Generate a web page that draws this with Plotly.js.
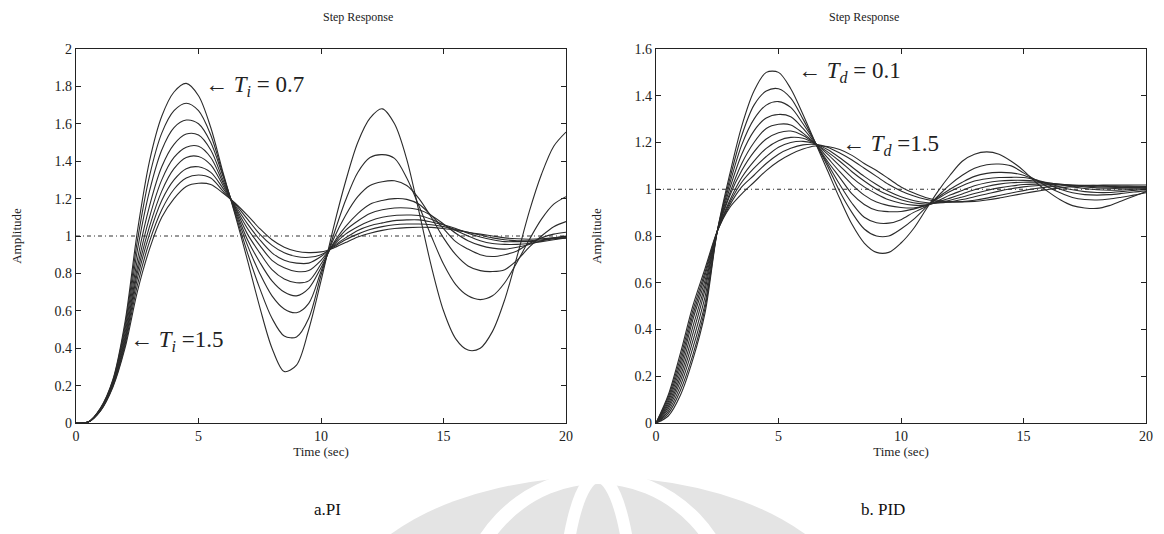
<!DOCTYPE html>
<html>
<head>
<meta charset="utf-8">
<script src="https://cdn.plot.ly/plotly-3.0.1.min.js"></script>
<style>
  html, body { margin: 0; padding: 0; background: #ffffff; }
  #chart { width: 1164px; height: 534px; }
</style>
</head>
<body>
<div id="chart"></div>
<script>
// ---- time base (seconds) ----
const timeSec = [0,0.5,1,1.5,2,2.5,3,3.5,4,4.5,5,5.5,6,6.5,7,7.5,8,8.5,9,9.5,10,10.5,11,11.5,12,12.5,13,13.5,14,14.5,15,15.5,16,16.5,17,17.5,18,18.5,19,19.5,20];

// ---- (a) PI controller, Ti = 0.7 : 0.1 : 1.5 ----
const tiValues = [0.7,0.8,0.9,1.0,1.1,1.2,1.3,1.4,1.5];
const piTi07 = [0,0.005,0.08,0.23,0.54,1.02,1.40,1.64,1.77,1.816,1.75,1.58,1.34,1.11,0.87,0.62,0.40,0.275,0.31,0.50,0.76,1.04,1.29,1.50,1.63,1.68,1.60,1.41,1.13,0.84,0.60,0.45,0.39,0.40,0.49,0.66,0.89,1.13,1.33,1.48,1.556];
const piTi08 = [0,0.005,0.078,0.225,0.52,0.97,1.32,1.55,1.67,1.71,1.67,1.54,1.33,1.12,0.91,0.72,0.56,0.465,0.46,0.56,0.79,1.00,1.19,1.34,1.42,1.435,1.415,1.31,1.16,1.00,0.85,0.74,0.68,0.66,0.68,0.75,0.86,0.98,1.09,1.17,1.21];
const piTi09 = [0,0.005,0.076,0.22,0.50,0.92,1.24,1.46,1.58,1.62,1.60,1.50,1.32,1.13,0.95,0.80,0.68,0.61,0.59,0.64,0.81,0.98,1.11,1.21,1.27,1.29,1.295,1.27,1.20,1.10,0.99,0.90,0.84,0.815,0.81,0.82,0.87,0.94,1.00,1.05,1.077];
const piTi10 = [0,0.005,0.074,0.215,0.48,0.87,1.16,1.37,1.49,1.545,1.54,1.46,1.30,1.14,0.98,0.86,0.76,0.70,0.68,0.72,0.83,0.96,1.05,1.12,1.17,1.19,1.20,1.196,1.17,1.11,1.04,0.97,0.93,0.90,0.89,0.90,0.92,0.96,0.99,1.01,1.02];
const piTi11 = [0,0.005,0.072,0.21,0.46,0.83,1.10,1.30,1.42,1.475,1.48,1.42,1.285,1.15,1.01,0.91,0.82,0.77,0.75,0.76,0.85,0.955,1.03,1.08,1.12,1.14,1.15,1.15,1.14,1.11,1.065,1.015,0.975,0.95,0.935,0.93,0.94,0.955,0.975,0.99,1.00];
const piTi12 = [0,0.005,0.07,0.205,0.445,0.80,1.05,1.24,1.36,1.42,1.425,1.38,1.27,1.155,1.04,0.95,0.87,0.83,0.81,0.815,0.87,0.95,1.01,1.05,1.08,1.10,1.11,1.112,1.11,1.09,1.06,1.03,1.00,0.975,0.96,0.955,0.955,0.96,0.97,0.98,0.99];
const piTi13 = [0,0.005,0.068,0.20,0.43,0.77,1.01,1.19,1.30,1.36,1.37,1.34,1.255,1.163,1.065,0.98,0.91,0.87,0.855,0.855,0.89,0.945,0.99,1.03,1.055,1.07,1.082,1.086,1.086,1.075,1.06,1.04,1.015,0.995,0.98,0.97,0.97,0.97,0.975,0.985,0.99];
const piTi14 = [0,0.005,0.066,0.195,0.415,0.735,0.97,1.14,1.25,1.31,1.326,1.31,1.24,1.17,1.09,1.01,0.95,0.91,0.89,0.886,0.90,0.94,0.98,1.01,1.035,1.05,1.06,1.064,1.064,1.06,1.05,1.035,1.02,1.005,0.99,0.98,0.975,0.975,0.98,0.985,0.99];
const piTi15 = [0,0.005,0.065,0.19,0.40,0.70,0.93,1.10,1.20,1.265,1.282,1.275,1.23,1.175,1.11,1.04,0.98,0.94,0.918,0.911,0.915,0.935,0.965,0.995,1.015,1.03,1.04,1.045,1.047,1.046,1.04,1.03,1.02,1.01,1.00,0.99,0.985,0.983,0.985,0.99,0.995];
const piSeries = [piTi07,piTi08,piTi09,piTi10,piTi11,piTi12,piTi13,piTi14,piTi15];

// ---- (b) PID controller, Td from 0.1 (top peak) to 1.5 ----
const tdLabels = ['Td = 0.1','Td #2','Td #3','Td #4','Td #5','Td #6','Td #7','Td #8','Td #9','Td = 1.5'];
const pidTd01 = [0,0.03,0.12,0.27,0.47,0.82,1.06,1.27,1.42,1.50,1.50,1.43,1.32,1.20,1.08,0.96,0.85,0.77,0.73,0.73,0.77,0.83,0.91,0.99,1.06,1.12,1.15,1.16,1.15,1.12,1.08,1.03,0.99,0.955,0.93,0.92,0.918,0.93,0.95,0.97,0.99];
const pidTd02 = [0,0.04,0.14,0.29,0.49,0.82,1.04,1.23,1.36,1.42,1.43,1.39,1.30,1.20,1.10,0.99,0.90,0.83,0.80,0.80,0.83,0.87,0.92,0.97,1.02,1.06,1.09,1.105,1.108,1.10,1.07,1.04,1.01,0.985,0.965,0.956,0.954,0.958,0.966,0.975,0.985];
const pidTd03 = [0,0.05,0.16,0.32,0.51,0.82,1.02,1.19,1.30,1.36,1.375,1.35,1.28,1.20,1.11,1.02,0.94,0.88,0.857,0.855,0.87,0.90,0.925,0.965,1.00,1.03,1.055,1.068,1.072,1.07,1.06,1.04,1.02,1.00,0.985,0.977,0.975,0.977,0.982,0.988,0.993];
const pidTd04 = [0,0.06,0.18,0.35,0.54,0.82,1.00,1.15,1.25,1.305,1.32,1.31,1.26,1.195,1.12,1.05,0.98,0.935,0.91,0.904,0.905,0.915,0.93,0.96,0.99,1.015,1.035,1.045,1.05,1.051,1.05,1.04,1.025,1.01,0.998,0.99,0.986,0.986,0.99,0.995,1.00];
const pidTd05 = [0,0.07,0.20,0.38,0.57,0.82,0.98,1.11,1.20,1.26,1.278,1.275,1.24,1.195,1.135,1.075,1.02,0.975,0.945,0.93,0.922,0.92,0.93,0.95,0.975,0.995,1.015,1.028,1.035,1.038,1.038,1.035,1.028,1.02,1.01,1.003,0.998,0.996,0.997,1.00,1.003];
const pidTd06 = [0,0.08,0.22,0.41,0.59,0.82,0.97,1.08,1.16,1.215,1.242,1.249,1.23,1.195,1.15,1.10,1.05,1.01,0.98,0.955,0.94,0.932,0.932,0.945,0.962,0.98,0.998,1.012,1.022,1.028,1.03,1.03,1.027,1.022,1.016,1.01,1.006,1.004,1.004,1.005,1.007];
const pidTd07 = [0,0.09,0.24,0.44,0.61,0.82,0.95,1.05,1.12,1.175,1.208,1.222,1.218,1.195,1.16,1.12,1.075,1.035,1.00,0.975,0.955,0.942,0.937,0.942,0.953,0.967,0.982,0.995,1.006,1.014,1.02,1.022,1.022,1.02,1.017,1.014,1.011,1.009,1.008,1.008,1.009];
const pidTd08 = [0,0.10,0.26,0.46,0.63,0.82,0.94,1.03,1.09,1.14,1.18,1.20,1.205,1.195,1.17,1.135,1.095,1.055,1.02,0.99,0.968,0.952,0.943,0.941,0.946,0.956,0.968,0.98,0.992,1.002,1.01,1.015,1.018,1.019,1.018,1.016,1.014,1.012,1.011,1.01,1.01];
const pidTd09 = [0,0.11,0.28,0.48,0.645,0.82,0.93,1.01,1.06,1.11,1.15,1.175,1.19,1.192,1.18,1.155,1.125,1.09,1.055,1.02,0.993,0.972,0.957,0.948,0.945,0.947,0.953,0.962,0.973,0.984,0.994,1.003,1.01,1.014,1.016,1.017,1.016,1.015,1.014,1.013,1.012];
const pidTd15 = [0,0.12,0.30,0.50,0.66,0.82,0.92,0.98,1.03,1.08,1.12,1.15,1.172,1.185,1.183,1.17,1.145,1.11,1.08,1.045,1.01,0.985,0.965,0.953,0.947,0.946,0.948,0.954,0.962,0.972,0.982,0.991,0.999,1.006,1.011,1.015,1.017,1.018,1.018,1.018,1.018];
const pidSeries = [pidTd01,pidTd02,pidTd03,pidTd04,pidTd05,pidTd06,pidTd07,pidTd08,pidTd09,pidTd15];

// ---- axes / ticks ----
const steadyState = 1;
const xTicks = [0,5,10,15,20];
const yTicksPI = [0,0.2,0.4,0.6,0.8,1,1.2,1.4,1.6,1.8,2];
const yTickTextPI = ['0','0.2','0.4','0.6','0.8','1','1.2','1.4','1.6','1.8','2'];
const yTicksPID = [0,0.2,0.4,0.6,0.8,1,1.2,1.4,1.6];
const yTickTextPID = ['0','0.2','0.4','0.6','0.8','1','1.2','1.4','1.6'];

const SERIF = "'Liberation Serif', 'DejaVu Serif', serif";
const INK = '#222222';
const CURVE = '#2b2b2b';

const traces = [];
function addSteady(xa, ya) {
  traces.push({
    x: [timeSec[0], timeSec[timeSec.length-1]], y: [steadyState, steadyState],
    xaxis: xa, yaxis: ya, mode: 'lines', hoverinfo: 'skip', showlegend: false,
    line: {color: '#333333', width: 1, dash: '4px,3px,1px,3px'}
  });
}
addSteady('x', 'y');
addSteady('x2', 'y2');
piSeries.forEach((s, i) => traces.push({
  x: timeSec, y: s, xaxis: 'x', yaxis: 'y', mode: 'lines', name: 'Ti = ' + tiValues[i],
  showlegend: false, line: {color: CURVE, width: 1.1, shape: 'spline', smoothing: 0.9}
}));
pidSeries.forEach((s, i) => traces.push({
  x: timeSec, y: s, xaxis: 'x2', yaxis: 'y2', mode: 'lines', name: tdLabels[i],
  showlegend: false, line: {color: CURVE, width: 1.1, shape: 'spline', smoothing: 0.9}
}));

function xAxis(domain, anchor) {
  return {
    domain: domain, anchor: anchor, range: [0, 20], tickvals: xTicks,
    ticks: 'inside', ticklen: 5, tickwidth: 1, tickcolor: INK,
    showline: true, linecolor: INK, linewidth: 1.3, mirror: 'ticks',
    showgrid: false, zeroline: false, automargin: false,
    tickfont: {family: SERIF, size: 14, color: INK},
    title: {text: 'Time (sec)', font: {family: SERIF, size: 13, color: INK}, standoff: 2}
  };
}
function yAxis(domain, anchor, range, vals, text) {
  return {
    domain: domain, anchor: anchor, range: range, tickvals: vals, ticktext: text,
    ticks: 'inside', ticklen: 5, tickwidth: 1, tickcolor: INK,
    showline: true, linecolor: INK, linewidth: 1.3, mirror: 'ticks',
    showgrid: false, zeroline: false, automargin: false,
    tickfont: {family: SERIF, size: 14, color: INK},
    title: {text: 'Amplitude', font: {family: SERIF, size: 13, color: INK}, standoff: 30}
  };
}

const W = 1164, H = 534;
const px = v => v / W, py = v => (H - v) / H;
const yDom = [py(423), py(49)];

const layout = {
  width: W, height: H, margin: {l: 0, r: 0, t: 0, b: 0},
  paper_bgcolor: '#ffffff', plot_bgcolor: 'rgba(0,0,0,0)',
  showlegend: false,
  xaxis: xAxis([px(76), px(566)], 'y'),
  yaxis: yAxis(yDom, 'x', [0, 2], yTicksPI, yTickTextPI),
  xaxis2: xAxis([px(656), px(1146)], 'y2'),
  yaxis2: yAxis(yDom, 'x2', [0, 1.6], yTicksPID, yTickTextPID),
  shapes: [
    {type: 'circle', xref: 'paper', yref: 'paper', layer: 'below',
     x0: px(338), x1: px(858), y0: py(765), y1: py(477), fillcolor: '#e4e4e4', line: {width: 0}},
    {type: 'circle', xref: 'paper', yref: 'paper', layer: 'below',
     x0: px(461), x1: px(735), y0: py(765), y1: py(477), fillcolor: 'rgba(0,0,0,0)', line: {color: '#ffffff', width: 14}},
    {type: 'circle', xref: 'paper', yref: 'paper', layer: 'below',
     x0: px(563), x1: px(633), y0: py(765), y1: py(477), fillcolor: 'rgba(0,0,0,0)', line: {color: '#ffffff', width: 12}}
  ],
  annotations: [
    {text: 'Step Response', xref: 'paper', yref: 'paper', x: px(321), y: py(17), yanchor: 'middle', showarrow: false,
     font: {family: SERIF, size: 12, color: INK}},
    {text: 'Step Response', xref: 'paper', yref: 'paper', x: px(901), y: py(17), yanchor: 'middle', showarrow: false,
     font: {family: SERIF, size: 12, color: INK}},
    {text: '← <i>T<sub>i</sub></i> = 0.7', xref: 'x', yref: 'y', x: 5.19, y: 1.80, xanchor: 'left', yanchor: 'middle',
     showarrow: false, font: {family: SERIF, size: 23, color: INK}},
    {text: '← <i>T<sub>i</sub></i> =1.5', xref: 'x', yref: 'y', x: 2.14, y: 0.44, xanchor: 'left', yanchor: 'middle',
     showarrow: false, font: {family: SERIF, size: 23, color: INK}},
    {text: '← <i>T<sub>d</sub></i> = 0.1', xref: 'x2', yref: 'y2', x: 5.72, y: 1.50, xanchor: 'left', yanchor: 'middle',
     showarrow: false, font: {family: SERIF, size: 23, color: INK}},
    {text: '← <i>T<sub>d</sub></i> =1.5', xref: 'x2', yref: 'y2', x: 7.52, y: 1.19, xanchor: 'left', yanchor: 'middle',
     showarrow: false, font: {family: SERIF, size: 23, color: INK}},
    {text: 'a.PI', xref: 'paper', yref: 'paper', x: px(312), y: py(509), yanchor: 'middle', showarrow: false,
     font: {family: SERIF, size: 17, color: '#111111'}},
    {text: 'b. PID', xref: 'paper', yref: 'paper', x: px(907), y: py(509), yanchor: 'middle', showarrow: false,
     font: {family: SERIF, size: 17, color: '#111111'}}
  ]
};

Plotly.newPlot('chart', traces, layout, {staticPlot: true, displayModeBar: false});
</script>
</body>
</html>
